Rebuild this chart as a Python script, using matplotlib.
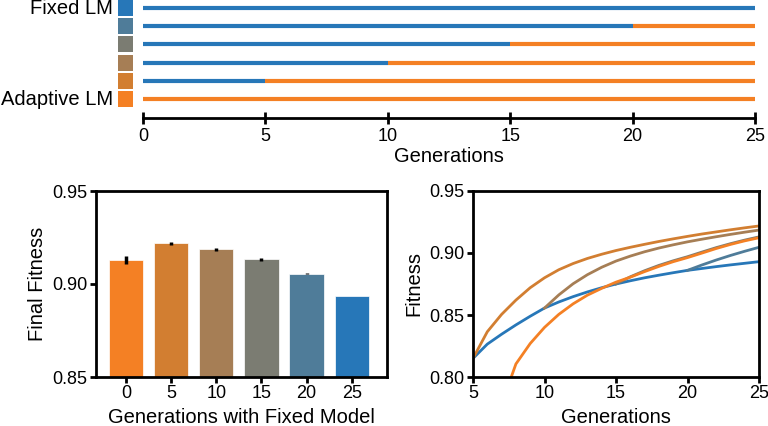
import numpy as np
import matplotlib
matplotlib.use('Agg')
import matplotlib.pyplot as plt
from matplotlib.patches import Rectangle

plt.rcParams['font.family'] = ['Liberation Sans', 'DejaVu Sans']

# colours: adaptive (orange) -> fixed the whole run (blue)
blue = '#2777b8'
orange = '#f48024'
palette = ['#f48024', '#d27e31', '#a67e55', '#7b7c72', '#4f7c99', '#2777b8']

# generation at which the fixed model is swapped for the adaptive one
fixed_gens = [0, 5, 10, 15, 20, 25]
n_gens = 25

# final fitness per schedule (bar chart)
final_fitness = [0.9130, 0.9219, 0.9186, 0.9133, 0.9056, 0.8934]
final_err = [0.0022, 0.0008, 0.0010, 0.0008, 0.0003, 0.0001]

# fitness curves
gen_25 = [5, 6, 7, 8, 9, 10, 11, 12, 13, 14, 15, 16, 17, 18, 19, 20, 21, 22, 23, 24, 25]
fit_25 = [0.8150, 0.8265, 0.8345, 0.8420, 0.8490, 0.8556, 0.8605, 0.8648, 0.8686, 0.8720, 0.8750,
          0.8776, 0.8800, 0.8821, 0.8841, 0.8860, 0.8875, 0.8890, 0.8904, 0.8917, 0.8930]
gen_20 = [20, 21, 22, 23, 24, 25]
fit_20 = [0.8860, 0.8903, 0.8943, 0.8980, 0.9014, 0.9046]
gen_15 = [15, 16, 17, 18, 19, 20, 21, 22, 23, 24, 25]
fit_15 = [0.8750, 0.8808, 0.8857, 0.8900, 0.8937, 0.8970, 0.9007, 0.9043, 0.9075, 0.9104, 0.9130]
gen_10 = [10, 11, 12, 13, 14, 15, 16, 17, 18, 19, 20, 21, 22, 23, 24, 25]
fit_10 = [0.8556, 0.8662, 0.8752, 0.8825, 0.8885, 0.8935, 0.8975, 0.9010, 0.9040, 0.9066, 0.9090,
          0.9111, 0.9131, 0.9150, 0.9168, 0.9185]
gen_5 = [5, 6, 7, 8, 9, 10, 11, 12, 13, 14, 15, 16, 17, 18, 19, 20, 21, 22, 23, 24, 25]
fit_5 = [0.8150, 0.8365, 0.8505, 0.8620, 0.8720, 0.8800, 0.8865, 0.8915, 0.8956, 0.8990, 0.9020,
         0.9046, 0.9070, 0.9093, 0.9114, 0.9134, 0.9153, 0.9170, 0.9187, 0.9203, 0.9218]
gen_0 = [7, 8, 9, 10, 11, 12, 13, 14, 15, 16, 17, 18, 19, 20, 21, 22, 23, 24, 25]
fit_0 = [0.7780, 0.8105, 0.8270, 0.8400, 0.8505, 0.8590, 0.8660, 0.8715, 0.8765, 0.8805, 0.8850,
         0.8892, 0.8930, 0.8963, 0.8999, 0.9036, 0.9069, 0.9098, 0.9123]

fig = plt.figure(figsize=(7.68, 4.26), dpi=100)

# ---- top: schedule diagram ----
ax0 = fig.add_axes([143 / 768, 1 - 118 / 426, 612 / 768, 118 / 426])
rows = fixed_gens[::-1]  # top row = fixed for all 25 gens
for i, g in enumerate(rows):
    if g > 0:
        ax0.plot([0, g], [i, i], color=blue, lw=3, solid_capstyle='butt', clip_on=False)
    if g < n_gens:
        ax0.plot([g, n_gens], [i, i], color=orange, lw=3, solid_capstyle='butt', clip_on=False)
    ax0.add_patch(Rectangle((-1.02, i - 0.44), 0.62, 0.88, color=palette[::-1][i], clip_on=False, lw=0))
ax0.text(-1.22, 0, 'Fixed LM', ha='right', va='center', fontsize=14.5)
ax0.text(-1.22, 5, 'Adaptive LM', ha='right', va='center', fontsize=14.5)
ax0.set_xlim(0, n_gens)
ax0.set_ylim(6.04, -0.44)
for s in ['left', 'top', 'right']:
    ax0.spines[s].set_visible(False)
ax0.spines['bottom'].set_linewidth(2)
ax0.set_yticks([])
ax0.set_xticks([0, 5, 10, 15, 20, 25])
ax0.tick_params(axis='x', direction='inout', length=8, width=2, labelsize=13, pad=3)
ax0.set_xlabel('Generations', fontsize=14.5, labelpad=2)

# ---- bottom left: final fitness bars ----
ax1 = fig.add_axes([96 / 768, 49 / 426, 291 / 768, 186 / 426])
x = np.arange(len(fixed_gens))
ax1.bar(x, np.array(final_fitness) - 0.85, bottom=0.85, width=0.76, color=palette,
        edgecolor='white', linewidth=0.5)
ax1.errorbar(x, final_fitness, yerr=final_err, fmt='none', ecolor='black', elinewidth=2.5, capsize=0)
ax1.set_xticks(x)
ax1.set_xticklabels([str(g) for g in fixed_gens])
ax1.set_xlim(-0.66, 5.78)
ax1.set_ylim(0.85, 0.95)
ax1.set_yticks([0.85, 0.90, 0.95])
ax1.set_yticklabels(['0.85', '0.90', '0.95'])
ax1.set_xlabel('Generations with Fixed Model', fontsize=14.5)
ax1.set_ylabel('Final Fitness', fontsize=14.5)

# ---- bottom right: fitness curves ----
ax2 = fig.add_axes([473 / 768, 49 / 426, 286 / 768, 186 / 426])
curves = [(gen_25, fit_25, palette[5]), (gen_20, fit_20, palette[4]), (gen_15, fit_15, palette[3]),
          (gen_10, fit_10, palette[2]), (gen_5, fit_5, palette[1]), (gen_0, fit_0, palette[0])]
for gx, fy, c in curves:
    ax2.plot(gx, fy, color=c, lw=2)
ax2.set_xlim(5, 25)
ax2.set_ylim(0.80, 0.95)
ax2.set_xticks([5, 10, 15, 20, 25])
ax2.set_yticks([0.80, 0.85, 0.90, 0.95])
ax2.set_yticklabels(['0.80', '0.85', '0.90', '0.95'])
ax2.set_xlabel('Generations', fontsize=14.5)
ax2.set_ylabel('Fitness', fontsize=14.5)

for ax in [ax1, ax2]:
    for s in ax.spines.values():
        s.set_linewidth(2)
    ax.tick_params(direction='out', length=4, width=2, labelsize=13, pad=2)

fig.savefig('out.png', dpi=100)
